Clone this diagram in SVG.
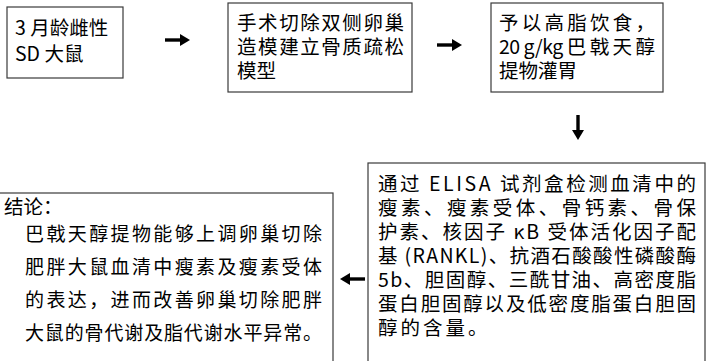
<svg xmlns="http://www.w3.org/2000/svg" width="710" height="361" viewBox="0 0 710 361">
<style>
.box{fill:#fff;stroke:#3a3a3a;stroke-width:1.2}
.t{font-family:"Noto Sans CJK SC","Noto Sans",sans-serif;font-size:19.5px;fill:#000}
.k{font-family:"Noto Sans CJK SC","Noto Sans",sans-serif;font-size:19px;fill:#000}
.arr{stroke:#000;stroke-width:3.4;fill:none;marker-end:url(#ah)}
</style>
<defs>
<marker id="ah" viewBox="0 0 10 12" refX="1" refY="6" markerWidth="10" markerHeight="12" orient="auto" markerUnits="userSpaceOnUse">
<path d="M0,0 L10,6 L0,12 z" fill="#000"/>
</marker>
</defs>
<rect width="710" height="361" fill="#fff"/>
<g id="n1">
<rect class="box" x="7" y="7" width="116" height="71"/>
<text class="t" x="15" y="35">3 月龄雌性</text>
<text class="t" x="15" y="61">SD 大鼠</text>
</g>
<g id="n2">
<rect class="box" x="228" y="3" width="184" height="89"/>
<text class="t" x="237" y="30" textLength="167" lengthAdjust="spacing">手术切除双侧卵巢</text>
<text class="t" x="237" y="54" textLength="167" lengthAdjust="spacing">造模建立骨质疏松</text>
<text class="t" x="237" y="78">模型</text>
</g>
<g id="n3">
<rect class="box" x="491" y="3" width="172" height="89"/>
<text class="t" x="499" y="30" textLength="156" lengthAdjust="spacing">予以高脂饮食，</text>
<text class="t" x="499" y="54" textLength="156" lengthAdjust="spacing">20 g/kg 巴 戟 天 醇</text>
<text class="t" x="499" y="78">提物灌胃</text>
</g>
<g id="n4">
<rect class="box" x="368" y="163" width="337" height="205"/>
<text class="t" x="378" y="191" textLength="318" lengthAdjust="spacing">通过 ELISA 试剂盒检测血清中的</text>
<text class="t" x="378" y="215" textLength="318" lengthAdjust="spacing">瘦素、瘦素受体、骨钙素、骨保</text>
<text class="t" x="378" y="239" textLength="318" lengthAdjust="spacing">护素、核因子 κB 受体活化因子配</text>
<text class="t" x="378" y="263" textLength="318" lengthAdjust="spacing">基 (RANKL)、抗酒石酸酸性磷酸酶</text>
<text class="t" x="378" y="287" textLength="318" lengthAdjust="spacing">5b、胆固醇、三酰甘油、高密度脂</text>
<text class="t" x="378" y="311" textLength="318" lengthAdjust="spacing">蛋白胆固醇以及低密度脂蛋白胆固</text>
<text class="t" x="378" y="335" letter-spacing="3">醇的含量。</text>
</g>
<g id="n5">
<rect class="box" x="-2" y="193" width="335" height="175"/>
<text class="t" x="4" y="214">结论：</text>
<text class="k" x="25" y="241" textLength="297" lengthAdjust="spacing">巴戟天醇提物能够上调卵巢切除</text>
<text class="k" x="25" y="274" textLength="297" lengthAdjust="spacing">肥胖大鼠血清中瘦素及瘦素受体</text>
<text class="k" x="25" y="307" textLength="297" lengthAdjust="spacing">的表达，进而改善卵巢切除肥胖</text>
<text class="k" x="25" y="340" textLength="297" lengthAdjust="spacing">大鼠的骨代谢及脂代谢水平异常。</text>
</g>
<g id="connectors">
<line class="arr" x1="165" y1="40" x2="181" y2="40"/>
<line class="arr" x1="437" y1="45" x2="453" y2="45"/>
<line class="arr" x1="578" y1="115" x2="578" y2="131"/>
<line class="arr" x1="365" y1="279" x2="349" y2="279"/>
</g>
</svg>
